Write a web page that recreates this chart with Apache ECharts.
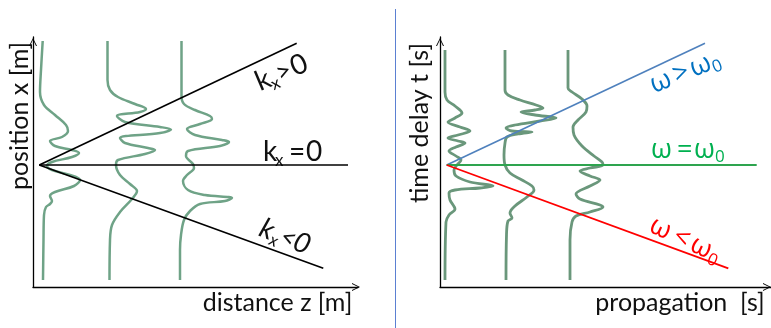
<!DOCTYPE html>
<html><head><meta charset="utf-8">
<script src="https://cdn.jsdelivr.net/npm/echarts@6/dist/echarts.min.js"></script>
<style>html,body{margin:0;padding:0;background:#fff}#c{width:771px;height:328px}</style>
</head><body><div id="c"></div>
<script>
// ---- Left panel: position x vs distance z (units: px-like, origin at axes corner) ----
const leftTrace1 = [[9.7,246],[8,217],[7,195],[11,182],[22,172],[33,162],[35,156],[29,150],[17,146],[22,141],[39,137],[46,134],[39,130],[19,125],[14,121],[19,117],[37,112],[47,107],[41,101],[22,95],[17,91],[19,86],[17,83],[13,80],[11,72],[10.5,47],[10,7]];
const leftTrace2 = [[74.5,246],[74.5,207],[77,197],[85,190],[102,183],[113,178],[107,175],[84,171],[92,165],[127,160],[138,157.5],[127,154],[87,149],[92,144],[115,139],[122,137],[112,133],[85,127],[83,122],[87,112],[97,103],[104,96],[99,88],[87,75],[79,62],[77,47],[76.5,7]];
const leftTrace3 = [[148.5,246],[148.5,191],[151,183],[162,177],[177,171],[179,168],[167,163],[154,158],[162,152],[189,147],[196,145],[187,141],[155,136],[153,131],[160,123],[161,119],[154,112],[150,106],[155,97],[172,92],[199,89],[192,86],[167,83],[157,76],[151,67],[148,52],[147,37],[147,7]];
const kPosRay  = [[6.3,122],[263.7,243.7]];
const kZeroRay = [[6.3,122],[315,122]];
const kNegRay  = [[6.3,122],[290.3,18.7]];

// ---- Right panel: time delay t vs propagation ----
const rightTrace1 = [[5,237],[5,195],[7,187],[15,181],[22,174],[15,169],[8,165],[20,160],[30,156],[18,152],[8,149],[18,146],[25,144],[16,140],[9,136],[16,131],[21,127],[17,122],[14,117],[16,111],[30,105],[53,101],[40,99],[15,97],[9,94],[10,87],[15,78],[9,72],[6,65],[5,7]];
const rightTrace2 = [[65,237],[65,197],[68,192],[80,187],[96,182],[103,179],[95,177],[81,175],[95,172],[116,169],[100,166],[75,162],[66,159],[72,156],[92,155],[78,153],[67,150],[65,144],[64,132],[65,122],[70,114],[82,107],[92,101],[94,97],[87,90],[75,81],[70,74],[72,69],[68,66],[66.5,52],[66,7]];
const rightTrace3 = [[128,237],[128,199],[132,195],[142,188],[147,181],[146,175],[138,167],[133,160],[134,152],[142,141],[154,131],[162,125],[163,122],[150,119],[140,116],[150,111],[160,107],[150,101],[136,93],[140,88],[160,82],[163,80],[150,75],[136,71],[132,65],[130,47],[130,7]];
const wGtRay = [[6.7,122],[265,243.7]];
const wEqRay = [[6.7,122],[316.7,122]];
const wLtRay = [[6.7,122],[288.3,18.7]];

// ---- Texts ----
const leftYName = 'position x [m]';
const leftXName = 'distance z [m]';
const rightYName = 'time delay t [s]';
const rightXName = 'propagation  [s]';

const FONT = 'Lato, "Open Sans", sans-serif';
const GFONT = '"Open Sans", "Noto Sans", sans-serif';
const ARROW = 'path://M0,8 L4,0 L8,8 L7,8 L4,1.8 L1,8 Z';

function xAx(gi, max, off) {
  return {type:'value', gridIndex:gi, min:0, max:max,
    axisLine:{show:true, onZero:false, lineStyle:{color:'#000', width:1.3}, symbol:['none', ARROW], symbolSize:[9,8], symbolOffset:[0,off]},
    axisTick:{show:false}, axisLabel:{show:false}, splitLine:{show:false}};
}
function yAx(gi) {
  return {type:'value', gridIndex:gi, min:0, max:250,
    axisLine:{show:true, onZero:false, lineStyle:{color:'#000', width:1.3}, symbol:['none', ARROW], symbolSize:[9,8], symbolOffset:[0,-5]},
    axisTick:{show:false}, axisLabel:{show:false}, splitLine:{show:false}};
}
function trace(data, gi, color, w) {
  return {type:'line', xAxisIndex:gi, yAxisIndex:gi, data:data, smooth:0.35, showSymbol:false, clip:false,
    lineStyle:{color:color, width:w}, z:2};
}
function ray(data, gi, color, w) {
  return {type:'line', xAxisIndex:gi, yAxisIndex:gi, data:data, showSymbol:false, clip:false,
    lineStyle:{color:color, width:w}, z:3};
}
function txt(text, x, y, size, color, family, rot, italic) {
  return {type:'text', x:x, y:y, rotation: rot||0,
    style:{text:text, fill:color, fontSize:size, fontFamily:family, fontStyle: italic?'italic':'normal',
      align:'center', verticalAlign:'middle', textAlign:'center', textVerticalAlign:'middle'}};
}
function mkLabel(x, y, deg, parts, color, family, italic) {
  return {type:'group', x:x, y:y, rotation: deg*Math.PI/180,
    children: parts.map(p => ({type:'text', x:p[1], y:p[2],
      style:{text:p[0], fill:color, fontSize:p[3], fontFamily:family, fontStyle: italic?'italic':'normal',
        align:'left', verticalAlign:'middle', textAlign:'left', textVerticalAlign:'middle'}}))};
}

const TR_L = '#6fa387', TR_R = '#6a977b';
const chart = echarts.init(document.getElementById('c'));
chart.setOption({
  animation:false,
  backgroundColor:'#fff',
  grid:[{left:33, top:37, width:325, height:250},{left:440, top:37, width:331, height:250}],
  xAxis:[xAx(0,325,-2), xAx(1,331,-4)],
  yAxis:[yAx(0), yAx(1)],
  series:[
    trace(leftTrace1,0,TR_L,2.5), trace(leftTrace2,0,TR_L,2.5), trace(leftTrace3,0,TR_L,2.5),
    ray(kPosRay,0,'#000',1.6), ray(kZeroRay,0,'#000',1.6), ray(kNegRay,0,'#000',1.6),
    trace(rightTrace1,1,TR_R,2.8), trace(rightTrace2,1,TR_R,2.8), trace(rightTrace3,1,TR_R,2.8),
    ray(wGtRay,1,'#4f81bd',1.6), ray(wEqRay,1,'#2ea44f',1.8), ray(wLtRay,1,'#ff0000',1.8)
  ],
  graphic:[
    {type:'line', shape:{x1:395.5,y1:9,x2:395.5,y2:328}, style:{stroke:'#5b80d2', lineWidth:1}},
    txt(leftYName, 20, 116, 25, '#111', FONT, Math.PI/2),
    txt(leftXName, 277.5, 303, 25, '#111', FONT, 0),
    txt(rightYName, 420, 123, 25, '#111', FONT, Math.PI/2),
    txt(rightXName, 680, 303, 25, '#111', FONT, 0),
    mkLabel(256.5, 83, 23, [['k',0,0,28],['x',13,8,17],['>',22,0,26],['0',38,0,28]], '#111', FONT, false),
    mkLabel(263, 152, 0, [['k',0,0,28],['x',12,9,17],['=',26,0,28],['0',43,0,28]], '#111', FONT, false),
    mkLabel(261, 227, -22, [['k',0,0,28],['x',13,8,17],['<',22,0,26],['0',36,0,28]], '#111', FONT, true),
    mkLabel(651, 86, 22, [['ω',0,0,27],['>',25,0,27],['ω',43,0,27],['0',64,7,17]], '#0070c0', GFONT, false),
    mkLabel(651, 150, 0, [['ω',0,0,27],['=',26,0,27],['ω',43,0,27],['0',64,7,17]], '#00b050', GFONT, false),
    mkLabel(651, 224, -25, [['ω',0,0,27],['<',26,0,27],['ω',45,0,27],['0',66,7,17]], '#ff0000', GFONT, false)
  ]
});
</script></body></html>
